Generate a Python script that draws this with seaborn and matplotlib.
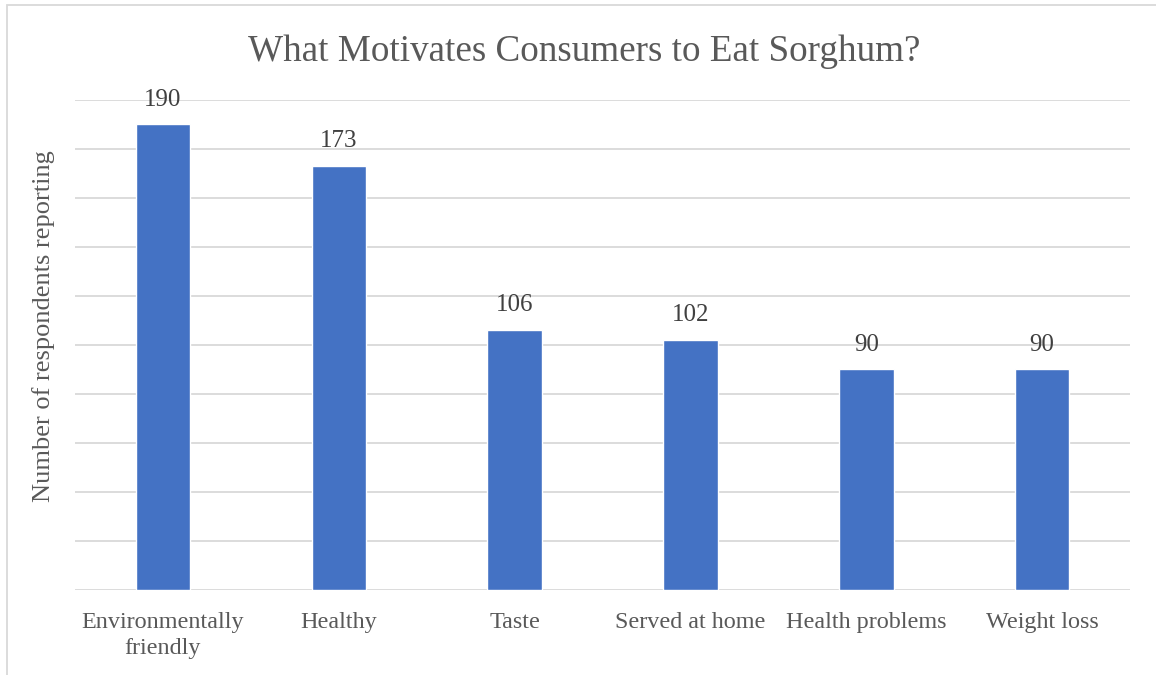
import matplotlib
matplotlib.use("Agg")
import matplotlib.pyplot as plt
import seaborn as sns
import pandas as pd
from matplotlib.patches import Rectangle

categories = ["Environmentally\nfriendly", "Healthy", "Taste", "Served at home",
              "Health problems", "Weight loss"]
respondents = [190, 173, 106, 102, 90, 90]
title = "What Motivates Consumers to Eat Sorghum?"
ylabel = "Number of respondents reporting"

df = pd.DataFrame({"motivation": categories, "count": respondents})

sns.set_theme(style="white")
plt.rcParams["font.family"] = ["Liberation Serif", "DejaVu Serif"]

fig = plt.figure(figsize=(11.56, 6.75), dpi=100)
ax = fig.add_axes([0.0649, 0.1259, 0.9126, 0.7260])

sns.barplot(data=df, x="motivation", y="count", color="#4472C4",
            width=0.31, saturation=1, ax=ax, zorder=3)

ax.set_ylim(0, 200)
ax.set_xlim(-0.5, 5.5)
ax.set_yticks(range(20, 201, 20))
ax.set_yticklabels([])
ax.tick_params(axis="y", length=0)
ax.tick_params(axis="x", length=0, pad=16, labelsize=17.4, labelcolor="#595959")
for lbl in ax.get_xticklabels():
    lbl.set_linespacing(1.3)
ax.grid(axis="y", color="#D9D9D9", linewidth=1.3, zorder=0)
ax.axhline(0, color="#D9D9D9", linewidth=1.3, zorder=1)
for s in ax.spines.values():
    s.set_visible(False)

ax.set_xlabel("")
ax.set_ylabel(ylabel, fontsize=19, color="#595959")
ax.yaxis.set_label_coords(-0.019, 0.539)

for i, v in enumerate(respondents):
    ax.annotate(str(v), (i, v), xytext=(0, 10), textcoords="offset points",
                ha="center", va="bottom", fontsize=18, color="#404040")

fig.text(0.505, 0.924, title, ha="center", va="center", fontsize=26.7,
         color="#595959")

# outer chart frame
fig.patches.append(Rectangle((7 / 1156, -0.1), 1.2, 0.1 + (675 - 5) / 675,
                             transform=fig.transFigure, fill=False,
                             edgecolor="#D9D9D9", linewidth=1.3))

fig.savefig("out.png", dpi=100, facecolor="white")
